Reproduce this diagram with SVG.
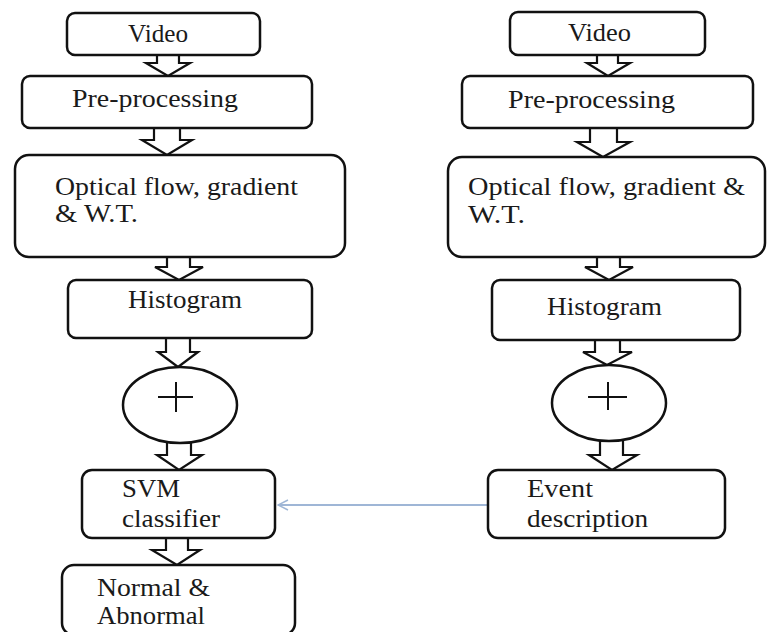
<svg xmlns="http://www.w3.org/2000/svg" width="767" height="632" viewBox="0 0 767 632">
<defs>
<style>
.box{fill:#fff;stroke:#111;stroke-width:2.5}
.ell{fill:#fff;stroke:#111;stroke-width:2.5}
.blk{fill:#fff;stroke:#111;stroke-width:2.2;stroke-linejoin:miter}
.plus{stroke:#111;stroke-width:2;fill:none}
text{font-family:"Liberation Serif","Times New Roman",serif;font-size:26px;fill:#1a1a1a}
.link{stroke:#9fb6d6;stroke-width:2;fill:none}
</style>
<marker id="open" viewBox="0 0 12 12" refX="11" refY="6" markerWidth="12" markerHeight="12" markerUnits="userSpaceOnUse" orient="auto">
<path d="M1,1 L11,6 L1,11" fill="none" stroke="#9fb6d6" stroke-width="1.5"/>
</marker>
</defs>
<rect width="767" height="632" fill="#fff"/>

<g id="connectors">
<path class="blk" d="M157,53 V63 H146 L168,76 L190,63 H179 V53"/>
<path class="blk" d="M154,126 V140 H142 L167,155 L192,140 H180 V126"/>
<path class="blk" d="M167,255 V267 H155 L179,280 L203,267 H190 V255"/>
<path class="blk" d="M166,336 V352 H158 L178,367 L198,352 H190 V336"/>
<path class="blk" d="M167,441 V455 H157 L179,470 L202,455 H191 V441"/>
<path class="blk" d="M166,536 V550 H152 L177,565 L200,550 H188 V536"/>

<path class="blk" d="M597,53 V63 H587 L608,76 L630,63 H618 V53"/>
<path class="blk" d="M590,126 V142 H577 L603,157 L630,142 H617 V126"/>
<path class="blk" d="M597,255 V267 H585 L609,280 L633,267 H620 V255"/>
<path class="blk" d="M595,338 V352 H583 L607,365 L632,352 H620 V338"/>
<path class="blk" d="M600,440 V455 H589 L612,470 L637,455 H623 V440"/>

<line class="link" x1="488" y1="505" x2="278" y2="505" marker-end="url(#open)"/>
</g>

<g id="video-left">
<rect class="box" x="67" y="13" width="193" height="42" rx="8"/>
<text x="128" y="42" textLength="60" lengthAdjust="spacingAndGlyphs">Video</text>
</g>
<g id="pre-left">
<rect class="box" x="22" y="76" width="290" height="52" rx="8"/>
<text x="72" y="107" textLength="166" lengthAdjust="spacingAndGlyphs">Pre-processing</text>
</g>
<g id="optical-left">
<rect class="box" x="15" y="155" width="330" height="102" rx="14"/>
<text x="55" y="195" textLength="243" lengthAdjust="spacingAndGlyphs">Optical flow, gradient</text>
<text x="55" y="222" textLength="83" lengthAdjust="spacingAndGlyphs">&amp; W.T.</text>
</g>
<g id="hist-left">
<rect class="box" x="68" y="280" width="244" height="58" rx="8"/>
<text x="128" y="308" textLength="114" lengthAdjust="spacingAndGlyphs">Histogram</text>
</g>
<g id="sum-left">
<ellipse class="ell" cx="180" cy="405" rx="57" ry="38"/>
<path class="plus" d="M158,397 H193 M176,382 V412"/>
</g>
<g id="svm">
<rect class="box" x="82" y="470" width="193" height="68" rx="10"/>
<text x="122" y="497" textLength="58" lengthAdjust="spacingAndGlyphs">SVM</text>
<text x="122" y="527" textLength="98" lengthAdjust="spacingAndGlyphs">classifier</text>
</g>
<g id="result">
<rect class="box" x="62" y="565" width="233" height="70" rx="12"/>
<text x="97" y="596" textLength="113" lengthAdjust="spacingAndGlyphs">Normal &amp;</text>
<text x="97" y="624" textLength="108" lengthAdjust="spacingAndGlyphs">Abnormal</text>
</g>

<g id="video-right">
<rect class="box" x="510" y="12" width="195" height="43" rx="8"/>
<text x="568" y="41" textLength="63" lengthAdjust="spacingAndGlyphs">Video</text>
</g>
<g id="pre-right">
<rect class="box" x="462" y="76" width="291" height="52" rx="8"/>
<text x="508" y="108" textLength="167" lengthAdjust="spacingAndGlyphs">Pre-processing</text>
</g>
<g id="optical-right">
<rect class="box" x="448" y="157" width="317" height="100" rx="14"/>
<text x="468" y="195" textLength="277" lengthAdjust="spacingAndGlyphs">Optical flow, gradient &amp;</text>
<text x="468" y="223" textLength="57" lengthAdjust="spacingAndGlyphs">W.T.</text>
</g>
<g id="hist-right">
<rect class="box" x="492" y="280" width="248" height="60" rx="8"/>
<text x="547" y="315" textLength="115" lengthAdjust="spacingAndGlyphs">Histogram</text>
</g>
<g id="sum-right">
<ellipse class="ell" cx="609" cy="403" rx="57" ry="38"/>
<path class="plus" d="M588,397 H627 M608,382 V410"/>
</g>
<g id="event">
<rect class="box" x="488" y="470" width="237" height="68" rx="10"/>
<text x="527" y="497" textLength="66" lengthAdjust="spacingAndGlyphs">Event</text>
<text x="527" y="527" textLength="121" lengthAdjust="spacingAndGlyphs">description</text>
</g>
</svg>
